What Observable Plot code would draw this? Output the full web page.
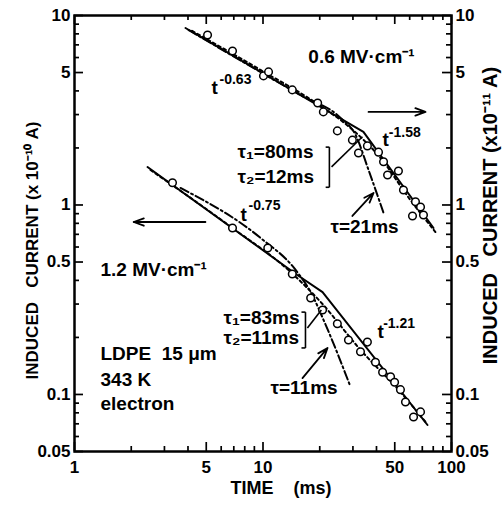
<!DOCTYPE html>
<html><head><meta charset="utf-8">
<script src="https://cdn.jsdelivr.net/npm/d3@7"></script>
<script src="https://cdn.jsdelivr.net/npm/@observablehq/plot@0.6"></script>
<style>body{margin:0;background:#fff;} svg{display:block}</style>
</head><body><div id="chart"></div>
<script>
// ---- tick labels ----
const xTickLabels = [1, 5, 10, 50, 100];
const yTickLabels = [0.05, 0.1, 0.5, 1, 5, 10];
const xMinor = [2,3,4,6,7,8,9,20,30,40,60,70,80,90];
const yMinor = [0.06,0.07,0.08,0.09,0.2,0.3,0.4,0.6,0.7,0.8,0.9,2,3,4,6,7,8,9];

// ---- 0.6 MV/cm (right axis, x1e-11 A) measured points ----
const upperTime    = [5.08, 6.89, 10.06, 10.7, 14.3, 19.5, 20.9, 24.8, 29.8, 32.1, 35.8, 41.0, 43.6, 45.8, 52.3, 55.6, 62.1, 64.4, 68.5, 71.0];
const upperCurrent = [7.89, 6.50, 4.80, 5.04, 4.05, 3.45, 3.10, 2.46, 2.20, 1.88, 2.05, 1.90, 1.69, 1.44, 1.51, 1.20, 0.875, 1.04, 0.975, 0.885];
// curves
const upperSolidT = [3.88, 34.1, 80.3];
const upperSolidI = [8.59, 2.43, 0.756];
const upperDashDotT = [4.03, 15.8, 25.8, 31.0, 36.3, 43.6];
const upperDashDotI = [8.38, 3.80, 2.88, 2.34, 1.53, 0.908];
const upperDottedT = [4.2, 9.70, 20.2, 29.1, 42.0, 60.6, 82.2];
const upperDottedI = [8.3, 5.16, 3.33, 2.55, 1.77, 1.06, 0.72];

// ---- 1.2 MV/cm (left axis, x1e-10 A) measured points ----
const lowerTime    = [3.31, 6.89, 10.6, 14.3, 17.9, 20.7, 24.8, 28.4, 32.9, 35.8, 39.5, 43.1, 47.5, 49.9, 53.6, 57.0, 62.9, 68.5];
const lowerCurrent = [1.31, 0.756, 0.593, 0.432, 0.323, 0.279, 0.236, 0.194, 0.168, 0.189, 0.148, 0.131, 0.124, 0.116, 0.106, 0.0913, 0.076, 0.0809];
const lowerSolidT = [2.44, 15.2, 20.7, 74.6];
const lowerSolidI = [1.587, 0.427, 0.347, 0.069];
const lowerDashDotT = [3.65, 9.70, 14.9, 17.9, 21.5, 29.1];
const lowerDashDotI = [1.23, 0.670, 0.454, 0.347, 0.233, 0.110];
const lowerDottedT = [2.53, 6.89, 14.0, 20.2, 32.9, 53.6, 72.8];
const lowerDottedI = [1.53, 0.756, 0.443, 0.308, 0.172, 0.103, 0.0716];

// ---- annotations (data coordinates) ----
const annoText = ["0.6 MV·cm⁻¹", "τ₁=80ms", "τ₂=12ms", "τ=21ms", "1.2 MV·cm⁻¹", "τ₁=83ms", "τ₂=11ms", "τ=11ms", "LDPE  15 μm", "343 K", "electron", "t", "t", "t", "t"];
const annoX    = [17.4, 7.32, 7.32, 22.8, 1.374, 6.17, 6.17, 10.96, 1.374, 1.374, 1.374, 5.33, 43.1, 7.60, 40.5];
const annoY    = [6.04, 1.90, 1.41, 0.765, 0.454, 0.253, 0.199, 0.108, 0.164, 0.119, 0.0891, 4.14, 2.20, 0.886, 0.214];
const supText  = ["-0.63", "-1.58", "-0.75", "-1.21"];
const supX     = [5.88, 46.5, 8.38, 43.4];
const supY     = [4.57, 2.40, 0.988, 0.236];

// brackets and leader lines
const linkX1 = [22.5, 21.5, 21.5, 23.1, 16.8, 16.0, 16.0, 17.2];
const linkY1 = [2.02, 2.02, 1.24, 1.59, 0.272, 0.272, 0.176, 0.224];
const linkX2 = [22.5, 22.5, 22.5, 33.7, 16.8, 16.8, 16.8, 20.4];
const linkY2 = [1.24, 2.02, 1.24, 2.29, 0.176, 0.272, 0.176, 0.279];
// arrows
const arrowX1 = [36.3, 4.95, 29.8, 16.2];
const arrowY1 = [3.10, 0.813, 0.875, 0.122];
const arrowX2 = [72.8, 2.06, 38.6, 22.0];
const arrowY2 = [3.10, 0.813, 1.157, 0.176];

const zip = (a, b) => a.map((v, i) => ({x: v, y: b[i]}));
const W = 502, H = 509, mL = 74, mR = 51, mT = 15, mB = 58;
const fw = W - mL - mR, fh = H - mT - mB;
const xDom = [1, 100], yDom = [0.05, 10];
const font = "'Liberation Sans', Arial, sans-serif";

const links = linkX1.map((v, i) => ({x1: v, y1: linkY1[i], x2: linkX2[i], y2: linkY2[i]}));
const arrows = arrowX1.map((v, i) => ({x1: v, y1: arrowY1[i], x2: arrowX2[i], y2: arrowY2[i]}));
const annos = annoText.map((t, i) => ({t, x: annoX[i], y: annoY[i]}));
const sups = supText.map((t, i) => ({t, x: supX[i], y: supY[i]}));

const majorLen = 9, minorLen = 5;
const tickStyle = {stroke: "#000", strokeWidth: 1.7};

const chart = Plot.plot({
  width: W, height: H,
  marginLeft: mL, marginRight: mR, marginTop: mT, marginBottom: mB,
  style: {fontFamily: font, fontWeight: "bold", background: "#fff", color: "#000"},
  x: {type: "log", domain: xDom, axis: null},
  y: {type: "log", domain: yDom, axis: null},
  marks: [
    Plot.frame({stroke: "#000", strokeWidth: 2.5, fill: "none"}),
    // inward ticks on all four sides
    Plot.ruleX(xTickLabels, {x: d => d, insetTop: fh - majorLen, ...tickStyle}),
    Plot.ruleX(xMinor, {x: d => d, insetTop: fh - minorLen, ...tickStyle}),
    Plot.ruleX(xTickLabels, {x: d => d, insetBottom: fh - majorLen, ...tickStyle}),
    Plot.ruleX(xMinor, {x: d => d, insetBottom: fh - minorLen, ...tickStyle}),
    Plot.ruleY(yTickLabels, {y: d => d, insetRight: fw - majorLen, ...tickStyle}),
    Plot.ruleY(yMinor, {y: d => d, insetRight: fw - minorLen, ...tickStyle}),
    Plot.ruleY(yTickLabels, {y: d => d, insetLeft: fw - majorLen, ...tickStyle}),
    Plot.ruleY(yMinor, {y: d => d, insetLeft: fw - minorLen, ...tickStyle}),
    // tick labels
    Plot.text(xTickLabels, {x: d => d, frameAnchor: "bottom", text: d => String(d), dy: 21, fontSize: 17, fill: "#000"}),
    Plot.text(yTickLabels, {y: d => d, frameAnchor: "left", textAnchor: "end", text: d => String(d), dx: -4, fontSize: 17, fill: "#000"}),
    Plot.text(yTickLabels, {y: d => d, frameAnchor: "right", textAnchor: "start", text: d => String(d), dx: 4, fontSize: 17, fill: "#000"}),
    // curves
    Plot.line(zip(upperSolidT, upperSolidI), {x: "x", y: "y", stroke: "#000", strokeWidth: 2}),
    Plot.line(zip(upperDashDotT, upperDashDotI), {x: "x", y: "y", stroke: "#000", strokeWidth: 2, strokeDasharray: "9,3,2,3", curve: "monotone-x"}),
    Plot.line(zip(upperDottedT, upperDottedI), {x: "x", y: "y", stroke: "#000", strokeWidth: 2, strokeDasharray: "3,3", curve: "monotone-x"}),
    Plot.line(zip(lowerSolidT, lowerSolidI), {x: "x", y: "y", stroke: "#000", strokeWidth: 2}),
    Plot.line(zip(lowerDashDotT, lowerDashDotI), {x: "x", y: "y", stroke: "#000", strokeWidth: 2, strokeDasharray: "9,3,2,3", curve: "monotone-x"}),
    Plot.line(zip(lowerDottedT, lowerDottedI), {x: "x", y: "y", stroke: "#000", strokeWidth: 2, strokeDasharray: "3,3", curve: "monotone-x"}),
    // data points
    Plot.dot(zip(upperTime, upperCurrent), {x: "x", y: "y", r: 3.8, stroke: "#000", fill: "#fff", strokeWidth: 1.5}),
    Plot.dot(zip(lowerTime, lowerCurrent), {x: "x", y: "y", r: 3.8, stroke: "#000", fill: "#fff", strokeWidth: 1.5}),
    // brackets, leaders, arrows
    Plot.link(links, {x1: "x1", y1: "y1", x2: "x2", y2: "y2", stroke: "#000", strokeWidth: 1.6}),
    Plot.arrow(arrows, {x1: "x1", y1: "y1", x2: "x2", y2: "y2", stroke: "#000", strokeWidth: 1.8, headLength: 9, headAngle: 40}),
    // annotations
    Plot.text(annos, {x: "x", y: "y", text: "t", textAnchor: "start", fontSize: 19, fill: "#000"}),
    Plot.text(sups, {x: "x", y: "y", text: "t", textAnchor: "start", fontSize: 14, fill: "#000"}),
    // axis titles
    Plot.text([0], {frameAnchor: "left", textAnchor: "middle", text: () => "INDUCED   CURRENT (x 10⁻¹⁰ A)", rotate: -90, dx: -42, dy: 17, fontSize: 17, fill: "#000"}),
    Plot.text([0], {frameAnchor: "right", textAnchor: "middle", text: () => "INDUCED   CURRENT (x10⁻¹¹ A)", rotate: -90, dx: 39, dy: -18, fontSize: 20, fill: "#000"}),
    Plot.text([0], {frameAnchor: "bottom", textAnchor: "middle", text: () => "TIME    (ms)", dx: 18, dy: 42, fontSize: 18, fill: "#000"})
  ]
});
document.getElementById("chart").appendChild(chart);
</script>
</body></html>
